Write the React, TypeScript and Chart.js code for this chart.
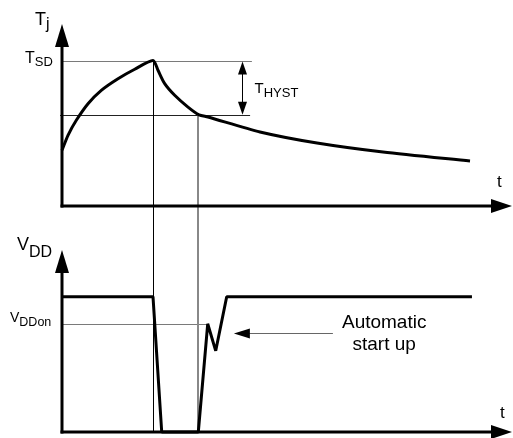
import { useEffect, useRef } from "react";
import { Chart, registerables } from "chart.js";

Chart.register(...registerables);

// Junction temperature over time (arbitrary units, T_SD = 100)
const tjTime = [0, 1.33, 3.18, 5.78, 8.73, 12.44, 16.16, 20.22, 21.33, 22.82, 25.04, 28.0, 30.44, 32.44, 44.0, 56.67, 71.33, 90.67];
const tjValues = [38.3, 48.6, 58.9, 70.3, 79.5, 87.5, 94.0, 100, 93.3, 84.1, 76.1, 68.0, 62.7, 61.2, 50.9, 43.3, 37.1, 30.9];

// Supply voltage over time (V)
const vddTime = [0, 20.22, 22.16, 30.29, 32.38, 34.16, 36.6, 91.1];
const vddValues = [5, 5, 0, 0, 4, 3, 5, 5];

// Thresholds and event times
const T_SD = 100;
const T_RESTART = 62.7; // T_SD - T_HYST
const VDD_ON = 4;
const T_SHUTDOWN_TIME = 20.22;
const T_RESTART_TIME = 30.29;

// Axis ranges
const X_RANGE = [0, 100];
const T_RANGE = [-155.3, 124.4];
const V_RANGE = [0, 15.04];

const FONT = '"Liberation Sans", Arial, Helvetica, sans-serif';

function arrowHead(ctx: CanvasRenderingContext2D, tipX: number, tipY: number, dx: number, dy: number, len: number, half: number) {
  const bx = tipX - dx * len;
  const by = tipY - dy * len;
  const px = -dy;
  const py = dx;
  ctx.beginPath();
  ctx.moveTo(tipX, tipY);
  ctx.lineTo(bx + px * half, by + py * half);
  ctx.lineTo(bx - px * half, by - py * half);
  ctx.closePath();
  ctx.fill();
}

function subLabel(ctx: CanvasRenderingContext2D, main: string, sub: string, x: number, y: number, mainPx: number, subPx: number, drop: number) {
  ctx.font = `${mainPx}px ${FONT}`;
  ctx.fillText(main, x, y);
  const w = ctx.measureText(main).width;
  ctx.font = `${subPx}px ${FONT}`;
  ctx.fillText(sub, x + w, y + drop);
}

function hLine(ctx: CanvasRenderingContext2D, x0: number, x1: number, y: number, color: string, width: number) {
  ctx.strokeStyle = color;
  ctx.lineWidth = width;
  const yy = width % 2 === 1 ? Math.round(y) + 0.5 : Math.round(y);
  ctx.beginPath();
  ctx.moveTo(x0, yy);
  ctx.lineTo(x1, yy);
  ctx.stroke();
}

function vLine(ctx: CanvasRenderingContext2D, x: number, y0: number, y1: number, color: string, width: number) {
  ctx.strokeStyle = color;
  ctx.lineWidth = width;
  const xx = width % 2 === 1 ? Math.round(x) + 0.5 : Math.round(x);
  ctx.beginPath();
  ctx.moveTo(xx, y0);
  ctx.lineTo(xx, y1);
  ctx.stroke();
}

const diagramPlugin = {
  id: "thermalDiagram",
  beforeDatasetsDraw(chart: Chart) {
    const ctx = chart.ctx;
    const sx = chart.scales.x;
    const st = chart.scales.yT;
    const sv = chart.scales.yV;
    const x0 = sx.getPixelForValue(0);
    ctx.save();
    // threshold guides
    hLine(ctx, x0, sx.getPixelForValue(42.2), st.getPixelForValue(T_SD), "#7a7a7a", 1);
    hLine(ctx, x0 - 2, sx.getPixelForValue(41.8), st.getPixelForValue(T_RESTART), "#222", 1);
    hLine(ctx, x0, sx.getPixelForValue(32.38), sv.getPixelForValue(VDD_ON), "#7a7a7a", 1);
    // event markers crossing both panels
    vLine(ctx, sx.getPixelForValue(T_SHUTDOWN_TIME), st.getPixelForValue(T_SD), sv.getPixelForValue(0), "#000", 1);
    vLine(ctx, sx.getPixelForValue(T_RESTART_TIME), st.getPixelForValue(T_RESTART), sv.getPixelForValue(0), "#888", 2);
    ctx.restore();
  },
  afterDatasetsDraw(chart: Chart) {
    const ctx = chart.ctx;
    const sx = chart.scales.x;
    const st = chart.scales.yT;
    const sv = chart.scales.yV;
    const x0 = sx.getPixelForValue(0);
    const xEnd = sx.getPixelForValue(X_RANGE[1]);
    ctx.save();
    ctx.fillStyle = "#000";
    ctx.strokeStyle = "#000";
    ctx.lineCap = "butt";

    const drawAxes = (originY: number) => {
      const tipY = originY - 182;
      ctx.lineWidth = 3;
      ctx.beginPath();
      ctx.moveTo(x0, originY + 1.5);
      ctx.lineTo(x0, tipY + 20);
      ctx.stroke();
      arrowHead(ctx, x0, tipY, 0, -1, 23, 7);
      ctx.beginPath();
      ctx.moveTo(x0 - 1.5, originY);
      ctx.lineTo(xEnd - 18, originY);
      ctx.stroke();
      arrowHead(ctx, xEnd, originY, 1, 0, 21, 7);
    };
    drawAxes(st.getPixelForValue(0));
    drawAxes(sv.getPixelForValue(0));

    // hysteresis dimension arrow
    const hx = Math.round(sx.getPixelForValue(40)) + 0.5;
    const yTop = st.getPixelForValue(T_SD) + 1;
    const yBot = st.getPixelForValue(T_RESTART);
    ctx.lineWidth = 1;
    ctx.beginPath();
    ctx.moveTo(hx, yTop + 8);
    ctx.lineTo(hx, yBot - 8);
    ctx.stroke();
    arrowHead(ctx, hx, yTop, 0, -1, 13, 4.5);
    arrowHead(ctx, hx, yBot, 0, 1, 13, 4.5);

    // start-up pointer
    const ay = sv.getPixelForValue(3.66);
    const aTip = sx.getPixelForValue(38.2);
    hLine(ctx, aTip + 10, sx.getPixelForValue(60.2), ay, "#666", 1);
    ctx.fillStyle = "#000";
    arrowHead(ctx, aTip, Math.round(ay) + 0.5, -1, 0, 16, 5);

    // labels
    ctx.fillStyle = "#000";
    ctx.textBaseline = "alphabetic";
    ctx.textAlign = "left";
    const tTop = st.getPixelForValue(0);
    const vBase = sv.getPixelForValue(0);
    subLabel(ctx, "T", "j", x0 - 27, tTop - 181, 18, 16, 4);
    subLabel(ctx, "T", "SD", x0 - 37, st.getPixelForValue(T_SD) + 2, 16, 13, 3.5);
    subLabel(ctx, "T", "HYST", hx + 12, (yTop + yBot) / 2 + 5, 15, 13, 3.5);
    subLabel(ctx, "V", "DD", x0 - 45, vBase - 182, 18, 16, 7);
    subLabel(ctx, "V", "DDon", x0 - 52, sv.getPixelForValue(VDD_ON) - 2, 14, 12.5, 4);

    ctx.font = `17px ${FONT}`;
    ctx.fillText("t", xEnd - 15, tTop - 19);
    ctx.fillText("t", xEnd - 12, vBase - 14);

    ctx.textAlign = "center";
    ctx.font = `19px ${FONT}`;
    const cx = sx.getPixelForValue(71.6);
    ctx.fillText("Automatic", cx, ay - 5);
    ctx.fillText("start up", cx, ay + 17);
    ctx.restore();
  },
};

export default function App() {
  const canvasRef = useRef<HTMLCanvasElement | null>(null);

  useEffect(() => {
    const canvas = canvasRef.current;
    if (!canvas) return;
    const chart = new Chart(canvas, {
      type: "line",
      data: {
        datasets: [
          {
            label: "Tj",
            data: tjTime.map((t, i) => ({ x: t, y: tjValues[i] })),
            yAxisID: "yT",
            borderColor: "#000",
            borderWidth: 3,
            pointRadius: 0,
            tension: 0.25,
            borderJoinStyle: "round",
            clip: false,
          },
          {
            label: "VDD",
            data: vddTime.map((t, i) => ({ x: t, y: vddValues[i] })),
            yAxisID: "yV",
            borderColor: "#000",
            borderWidth: 3,
            pointRadius: 0,
            tension: 0,
            borderJoinStyle: "bevel",
            clip: false,
          },
        ],
      },
      options: {
        responsive: false,
        animation: false,
        devicePixelRatio: 1,
        layout: { padding: { left: 62, right: 1, top: 25, bottom: 6 } },
        plugins: { legend: { display: false }, tooltip: { enabled: false }, title: { display: false } },
        events: [],
        scales: {
          x: { type: "linear", min: X_RANGE[0], max: X_RANGE[1], display: false },
          yT: { type: "linear", min: T_RANGE[0], max: T_RANGE[1], display: false },
          yV: { type: "linear", min: V_RANGE[0], max: V_RANGE[1], display: false },
        },
      },
      plugins: [diagramPlugin],
    });
    return () => chart.destroy();
  }, []);

  return (
    <div style={{ position: "fixed", left: 0, top: 0, width: 513, height: 438, background: "#fff" }}>
      <canvas ref={canvasRef} width={513} height={438} />
    </div>
  );
}
